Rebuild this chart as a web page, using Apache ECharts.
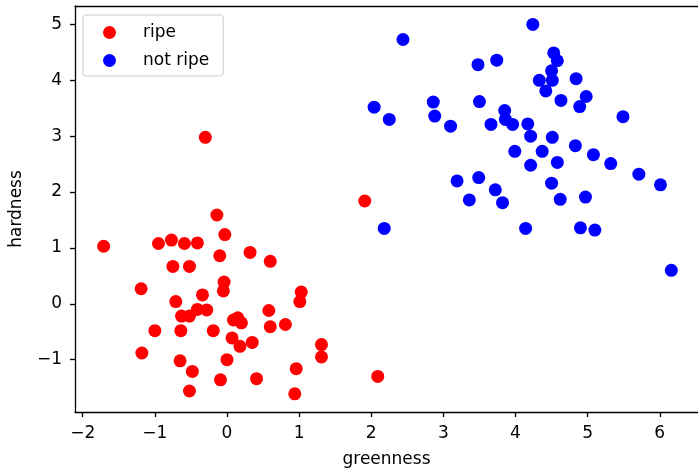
<!DOCTYPE html>
<html>
<head>
<meta charset="utf-8">
<script src="https://cdn.jsdelivr.net/npm/echarts@6/dist/echarts.min.js"></script>
<style>
  html, body { margin: 0; padding: 0; background: #fff; }
  #chart { width: 698px; height: 473px; }
</style>
</head>
<body>
<div id="chart"></div>
<script>
// [greenness, hardness]
const ripe = [
  [-1.71, 1.03], [-0.95, 1.08], [-0.77, 1.14], [-0.59, 1.08], [-0.41, 1.09],
  [-0.14, 1.59], [-0.03, 1.24], [-0.10, 0.86], [0.32, 0.92], [0.60, 0.76],
  [-0.75, 0.67], [-0.52, 0.67], [-1.19, 0.27], [-0.04, 0.39], [-0.05, 0.23],
  [-0.34, 0.16], [-0.71, 0.04], [1.03, 0.21], [1.01, 0.04], [-0.41, -0.10],
  [-0.28, -0.11], [-0.63, -0.22], [-0.52, -0.22], [0.58, -0.12], [0.09, -0.29],
  [0.15, -0.25], [0.20, -0.34], [0.60, -0.41], [0.81, -0.37], [-1.00, -0.48],
  [-0.64, -0.48], [-0.19, -0.48], [0.07, -0.61], [0.18, -0.76], [0.35, -0.69],
  [1.31, -0.73], [1.31, -0.95], [-1.18, -0.88], [-0.65, -1.02], [0.00, -1.00],
  [-0.48, -1.21], [0.96, -1.16], [-0.09, -1.36], [0.41, -1.34], [-0.52, -1.56],
  [0.94, -1.61], [2.09, -1.30], [1.91, 1.84], [-0.30, 2.98]
];
const notRipe = [
  [4.24, 5.00], [2.44, 4.73], [3.48, 4.28], [3.74, 4.36], [4.53, 4.49],
  [4.58, 4.35], [4.50, 4.17], [4.33, 4.00], [4.51, 4.00], [4.84, 4.03],
  [4.42, 3.81], [4.63, 3.64], [4.98, 3.71], [4.89, 3.53], [2.04, 3.52],
  [2.25, 3.30], [2.86, 3.61], [2.88, 3.36], [3.10, 3.18], [3.50, 3.62],
  [3.85, 3.46], [3.86, 3.30], [3.96, 3.21], [3.66, 3.21], [4.17, 3.22],
  [5.49, 3.35], [4.21, 3.00], [4.51, 2.98], [4.83, 2.83], [3.99, 2.73],
  [4.37, 2.73], [5.08, 2.67], [5.32, 2.51], [4.21, 2.48], [4.58, 2.53],
  [5.71, 2.32], [6.01, 2.13], [3.19, 2.20], [3.49, 2.26], [3.72, 2.04],
  [3.36, 1.86], [3.82, 1.81], [4.50, 2.16], [4.62, 1.87], [4.97, 1.91],
  [2.18, 1.35], [4.14, 1.35], [4.90, 1.36], [5.10, 1.32], [6.16, 0.60]
];
const xTicks = [-2, -1, 0, 1, 2, 3, 4, 5, 6];
const yTicks = [-1, 0, 1, 2, 3, 4, 5];

const font = 'DejaVu Sans';
const minus = v => String(v).replace('-', '\u2212');
const spine = { show: true, onZero: false, lineStyle: { color: '#000', width: 1.3 } };
const tick = { color: '#000', width: 1.3 };
const label = { margin: 13, fontSize: 17, color: '#000', fontFamily: font, formatter: minus };
const nameStyle = { fontSize: 17, color: '#000', fontFamily: font };
const xMin = -2.107, xMax = 6.53;

const chart = echarts.init(document.getElementById('chart'));
chart.setOption({
  animation: false,
  textStyle: { fontFamily: font },
  grid: { left: 74, top: 6, right: 0, bottom: 60 },
  legend: {
    orient: 'vertical',
    left: 83, top: 15,
    itemWidth: 13, itemHeight: 13, itemGap: 11,
    padding: [9, 14, 7, 20],
    borderColor: '#cccccc', borderWidth: 1, borderRadius: 3,
    backgroundColor: 'rgba(255,255,255,0.8)',
    icon: 'circle',
    formatter: name => '{t|' + name + '}',
    textStyle: {
      fontSize: 17, color: '#000', fontFamily: font,
      rich: { t: { fontSize: 17, fontFamily: font, color: '#000', padding: [0, 0, 0, 22] } }
    },
    data: ['ripe', 'not ripe']
  },
  xAxis: [{
    type: 'value', min: xMin, max: xMax,
    name: 'greenness', nameLocation: 'middle', nameGap: 39, nameTextStyle: nameStyle,
    splitLine: { show: false },
    axisLine: spine,
    axisTick: { inside: false, length: 5, customValues: xTicks, lineStyle: tick },
    axisLabel: Object.assign({ customValues: xTicks }, label)
  }, {
    type: 'value', position: 'top', min: xMin, max: xMax,
    splitLine: { show: false }, axisLine: spine,
    axisTick: { show: false }, axisLabel: { show: false }
  }],
  yAxis: {
    type: 'value', min: -1.936, max: 5.33,
    name: 'hardness', nameLocation: 'middle', nameGap: 50, nameRotate: 90, nameTextStyle: nameStyle,
    splitLine: { show: false },
    axisLine: spine,
    axisTick: { inside: false, length: 5, customValues: yTicks, lineStyle: tick },
    axisLabel: Object.assign({ customValues: yTicks }, label)
  },
  series: [
    { name: 'ripe', type: 'scatter', data: ripe, symbolSize: 13,
      itemStyle: { color: '#ff0000', opacity: 1 } },
    { name: 'not ripe', type: 'scatter', data: notRipe, symbolSize: 13,
      itemStyle: { color: '#0000ff', opacity: 1 } }
  ]
});
</script>
</body>
</html>
